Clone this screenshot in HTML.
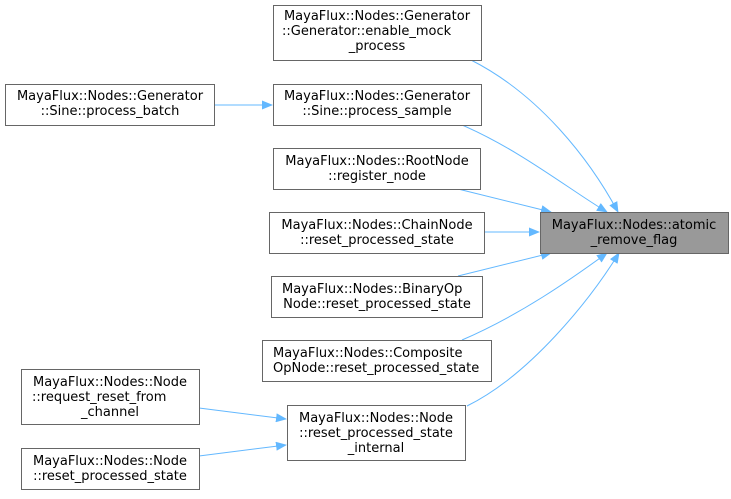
<!DOCTYPE html>
<html><head><style>html,body{margin:0;padding:0;background:#fff}</style></head><body>
<svg width="731" height="494" viewBox="0 0 731 494" xmlns="http://www.w3.org/2000/svg" font-family="DejaVu Sans, sans-serif" font-size="13" text-anchor="middle">
<defs><marker id="a" markerWidth="11" markerHeight="9" refX="10" refY="4.5" orient="auto" markerUnits="userSpaceOnUse"><path d="M0,0 L11,4.5 L0,9 z" fill="#63b8ff"/></marker></defs>
<g fill="none" stroke="#63b8ff" stroke-width="1" marker-end="url(#a)">
<path d="M471,60 C540,95 590,160 618,212"/>
<path d="M462,125 C520,150 570,190 607,212"/>
<path d="M458,189 L551,212"/>
<path d="M485,232 L539,232"/>
<path d="M458,276 L551,253"/>
<path d="M462,340 C520,315 570,280 607,253"/>
<path d="M467,406 C530,375 590,300 619,253"/>
<path d="M215,105 L272,105"/>
<path d="M199,408 L286,419"/>
<path d="M199,456 L286,445"/>
</g>
<g stroke="#666" stroke-width="1" fill="#fff">
<rect x="273.5" y="5.5" width="208" height="55"/>
<rect x="5.5" y="84.5" width="209" height="41"/>
<rect x="273.5" y="84.5" width="208" height="41"/>
<rect x="273.5" y="148.5" width="207" height="41"/>
<rect x="269.5" y="212.5" width="215" height="41"/>
<rect x="540.5" y="212.5" width="188" height="41" fill="#999"/>
<rect x="271.5" y="276.5" width="211" height="41"/>
<rect x="262.5" y="340.5" width="229" height="41"/>
<rect x="21.5" y="369.5" width="178" height="55"/>
<rect x="21.5" y="448.5" width="178" height="41"/>
<rect x="287.5" y="405.5" width="178" height="55"/>
</g>
<g fill="#000">
<text x="377" y="20">MayaFlux::Nodes::Generator</text><text x="282" y="35" text-anchor="start">::Generator::enable_mock</text><text x="377" y="50">_process</text>
<text x="110" y="100">MayaFlux::Nodes::Generator</text><text x="110" y="115">::Sine::process_batch</text>
<text x="377" y="100">MayaFlux::Nodes::Generator</text><text x="377" y="115">::Sine::process_sample</text>
<text x="377" y="165">MayaFlux::Nodes::RootNode</text><text x="377" y="180">::register_node</text>
<text x="377" y="229">MayaFlux::Nodes::ChainNode</text><text x="377" y="244">::reset_processed_state</text>
<text x="634" y="229">MayaFlux::Nodes::atomic</text><text x="634" y="244">_remove_flag</text>
<text x="282" y="293" text-anchor="start">MayaFlux::Nodes::BinaryOp</text><text x="377" y="308">Node::reset_processed_state</text>
<text x="273" y="357" text-anchor="start">MayaFlux::Nodes::Composite</text><text x="273" y="372" text-anchor="start">OpNode::reset_processed_state</text>
<text x="110" y="386">MayaFlux::Nodes::Node</text><text x="32" y="401" text-anchor="start">::request_reset_from</text><text x="110" y="416">_channel</text>
<text x="110" y="465">MayaFlux::Nodes::Node</text><text x="110" y="480">::reset_processed_state</text>
<text x="376" y="422">MayaFlux::Nodes::Node</text><text x="376" y="437">::reset_processed_state</text><text x="376" y="452">_internal</text>
</g>
</svg>
</body></html>
